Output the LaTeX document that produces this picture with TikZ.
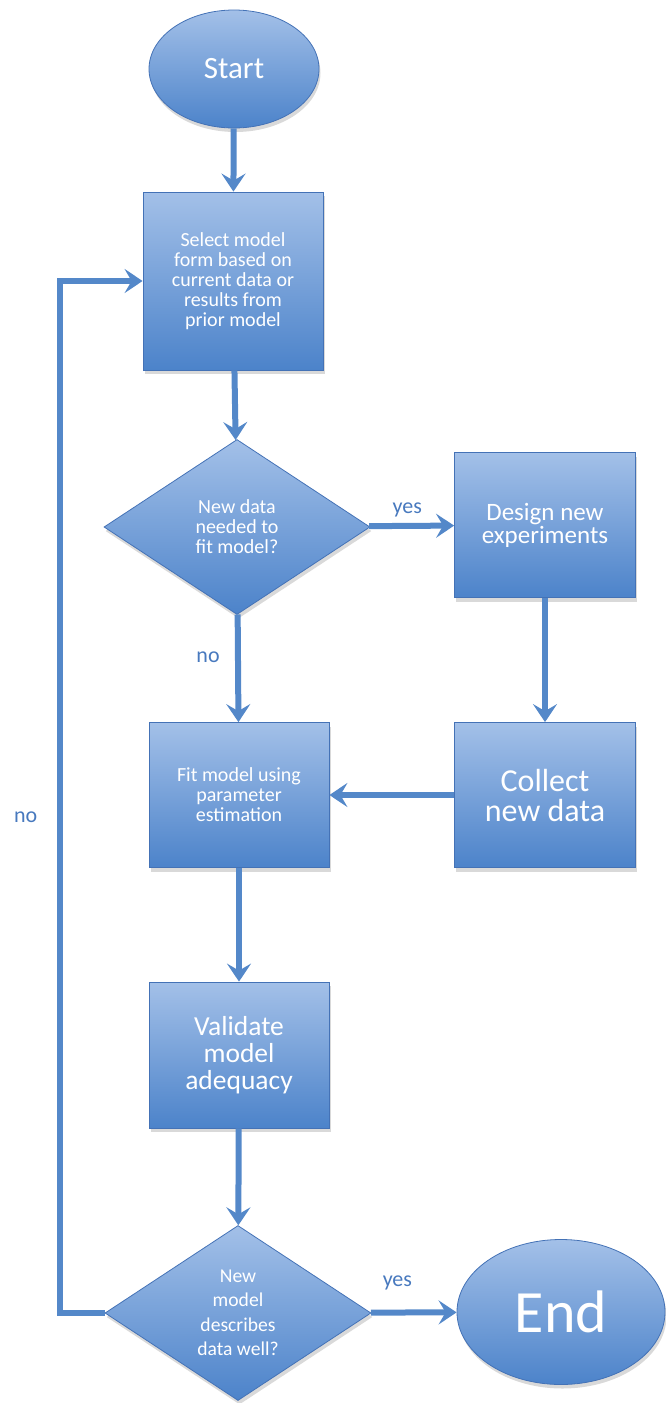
\documentclass[tikz,border=0pt]{standalone}
\usepackage{fontspec}
\setmainfont{Carlito}
\usepackage{xcolor}
\usetikzlibrary{shapes.geometric}
\usetikzlibrary{arrows.meta}
\usetikzlibrary{shadows}
\definecolor{boxtop}{RGB}{163,192,232}
\definecolor{boxbot}{RGB}{76,131,202}
\definecolor{boxline}{RGB}{68,114,182}
\definecolor{flowblue}{RGB}{84,136,201}
\definecolor{labelblue}{RGB}{72,121,190}
\tikzset{stepbox/.style={rectangle,minimum width=180pt},
	decision/.style={diamond,aspect=1.52,inner sep=0pt,minimum width=266pt,minimum height=175pt},
	terminal/.style={ellipse,inner sep=0pt},
	flow/.style={draw=flowblue,line width=6pt,->}}

\begin{document}
\begin{tikzpicture}[x=1pt,y=-1pt]
		\useasboundingbox (0,0) rectangle (665,1403);
		\begin{scope}[every node/.style={draw=boxline,thick,top color=boxtop,bottom color=boxbot,
			text=white,align=center,drop shadow={opacity=0.3,shadow xshift=1.5pt,shadow yshift=-4pt}}]
			\node[terminal,minimum width=170pt,minimum height=118pt,font=\fontsize{31}{31}\selectfont] (S) at (234,69) {Start};
			\node[stepbox,minimum height=178pt,font=\fontsize{20}{20}\selectfont] (M) at (233,281) {Select model\\form based on\\current data or\\results from\\prior model};
			\node[decision,font=\fontsize{20}{20}\selectfont] (Q1) at (237,527) {New data\\needed to\\fit model?};
			\node[stepbox,minimum width=181pt,minimum height=145pt,font=\fontsize{25}{23}\selectfont] (D) at (545,525) {Design new\\experiments};
			\node[stepbox,minimum width=181pt,minimum height=145pt,font=\fontsize{32}{30}\selectfont] (C) at (545,795) {Collect\\new data};
			\node[stepbox,minimum height=145pt,font=\fontsize{20}{20}\selectfont] (F) at (239,795) {Fit model using\\parameter\\estimation};
			\node[stepbox,minimum height=146pt,font=\fontsize{27.5}{27}\selectfont] (V) at (239,1055) {Validate\\model\\adequacy};
			\node[decision,font=\fontsize{19.6}{24.5}\selectfont] (Q2) at (238,1313) {New\\model\\describes\\data well?};
			\node[terminal,minimum width=208pt,minimum height=145pt,font=\fontsize{60}{60}\selectfont] (E) at (561,1312) {End};
		\end{scope}
		\begin{scope}[>={Stealth[length=18pt,width=24pt,inset=7pt]},
			every node/.style={text=labelblue,font=\fontsize{22}{22}\selectfont},
			every edge/.style={flow}]
			\path (S) edge (M);
			\path (M) edge (Q1);
			\path (Q1) edge node[above=3pt,pos=0.45]{yes} (D);
			\path (Q1) edge node[left=12pt,pos=0.4]{no} (F);
			\path (D) edge (C);
			\path (C) edge (F);
			\path (F) edge (V);
			\path (V) edge (Q2);
			\path (Q2) edge node[above=16pt,pos=0.31]{yes} (E);
			\draw[flow] (Q2.west) -| ([xshift=-83pt]M.west) node[left=16pt,pos=0.74]{no} -- (M.west);
		\end{scope}
	\end{tikzpicture}
\end{document}
